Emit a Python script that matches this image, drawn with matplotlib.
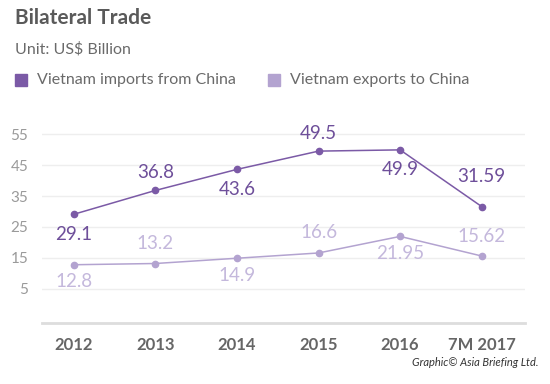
import matplotlib.pyplot as plt
from matplotlib.patches import Rectangle

plt.rcParams['font.family'] = ['Lato', 'DejaVu Sans']

# dados
anos = ['2012', '2013', '2014', '2015', '2016', '7M 2017']
importacoes = [29.1, 36.8, 43.6, 49.5, 49.9, 31.59]
exportacoes = [12.8, 13.2, 14.9, 16.6, 21.95, 15.62]
rotulos_imp = ['29.1', '36.8', '43.6', '49.5', '49.9', '31.59']
rotulos_exp = ['12.8', '13.2', '14.9', '16.6', '21.95', '15.62']
yticks = [5, 15, 25, 35, 45, 55]

cor_imp = '#7b5aa6'
cor_exp = '#b3a3d0'
cor_txt_imp = '#6e4f9a'
cor_txt_exp = '#c4b8dc'

fig = plt.figure(figsize=(5.5, 3.84), dpi=100)
ax = fig.add_axes([0.0764, 0.159, 0.878, 0.516])

x = list(range(len(anos)))
ax.plot(x, importacoes, color=cor_imp, lw=1.1, marker='o', ms=4.5, zorder=3)
ax.plot(x, exportacoes, color=cor_exp, lw=1.1, marker='o', ms=4.5, zorder=3)

# rotulos alternando abaixo / acima
for i in x:
    dy = -20 if i % 2 == 0 else 18
    if i == 5:
        dy = 30
    ax.annotate(rotulos_imp[i], (i, importacoes[i]), xytext=(0, dy * 0.72),
                textcoords='offset points', ha='center', va='center',
                fontsize=13.5, color=cor_txt_imp)
    dy2 = -17 if i % 2 == 0 else 20
    ax.annotate(rotulos_exp[i], (i, exportacoes[i]), xytext=(0, dy2 * 0.72),
                textcoords='offset points', ha='center', va='center',
                fontsize=13.5, color=cor_txt_exp)

ax.set_xlim(-0.39, 5.53)
ax.set_ylim(-6, 58)
ax.set_yticks(yticks)
ax.set_xticks(x)
ax.set_xticklabels(anos, fontsize=12, fontweight='bold', color='#666666')
ax.tick_params(axis='y', length=0, pad=10, labelsize=11, labelcolor='#9a9a9a')
ax.tick_params(axis='x', length=0, pad=10)
ax.grid(axis='y', color='#eeeeee', lw=1)
ax.set_axisbelow(True)
for s in ['top', 'right', 'left']:
    ax.spines[s].set_visible(False)
ax.spines['bottom'].set_color('#dddddd')
ax.spines['bottom'].set_linewidth(2)

# titulo e legenda
fig.text(15 / 550, 1 - 18 / 384, 'Bilateral Trade', fontsize=15, fontweight='bold',
         color='#5a5a5a', va='center')
fig.text(15 / 550, 1 - 49 / 384, 'Unit: US$ Billion', fontsize=11.5,
         color='#6a6a6a', va='center')
fig.patches.append(Rectangle((15 / 550, 1 - 86 / 384), 12 / 550, 12 / 384,
                             transform=fig.transFigure, color=cor_imp))
fig.text(37 / 550, 1 - 80 / 384, 'Vietnam imports from China', fontsize=11.5,
         color='#6a6a6a', va='center')
fig.patches.append(Rectangle((268 / 550, 1 - 86 / 384), 12 / 550, 12 / 384,
                             transform=fig.transFigure, color=cor_exp))
fig.text(290 / 550, 1 - 80 / 384, 'Vietnam exports to China', fontsize=11.5,
         color='#6a6a6a', va='center')

fig.text(538 / 550, 1 - 362 / 384, 'Graphic© Asia Briefing Ltd.', fontsize=8,
         style='italic', color='#333333', ha='right', va='center')

fig.savefig('out.png', dpi=100)
